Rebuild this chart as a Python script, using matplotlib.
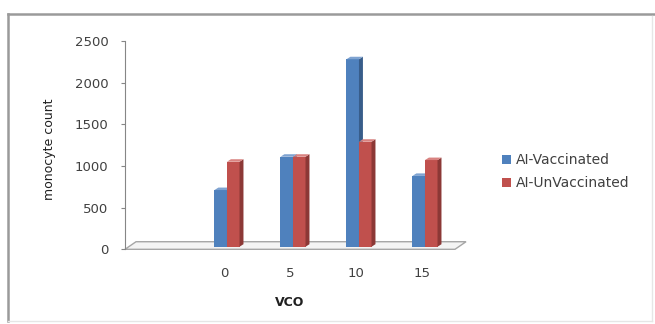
import numpy as np
import matplotlib
matplotlib.use("Agg")
import matplotlib.pyplot as plt
from matplotlib.patches import Polygon, Patch
from matplotlib.lines import Line2D

# data (first slot is an empty category)
categories = ["", "0", "5", "10", "15"]
vaccinated = [np.nan, 680, 1080, 2250, 850]
unvaccinated = [np.nan, 1020, 1080, 1260, 1040]
series_names = ["AI-Vaccinated", "AI-UnVaccinated"]

blue = ("#4F81BD", "#385D8A", "#7FA3D1")   # front, side, top
red = ("#C0504D", "#8C3836", "#D98381")

plt.rcParams["font.family"] = ["DejaVu Sans"]

fig = plt.figure(figsize=(6.55, 3.24), dpi=100)
ax = fig.add_axes([125 / 655, 74.7 / 324, 330 / 655, 208.3 / 324])

x = np.arange(len(categories))
w = 0.19
base = 31        # bars stand a bit inside the floor
sx, sy = 0.06, 30  # fake depth of the bars
fdx, fdy = 0.167, 91  # fake depth of the floor

# floor
ax.add_patch(Polygon([(-0.5, 0), (-0.5 + fdx, fdy), (4.5 + fdx, fdy), (4.5, 0)],
                     closed=True, facecolor="#f4f4f4", edgecolor="#a6a6a6",
                     linewidth=1.0, clip_on=False, zorder=1))


def bars3d(xs, vals, cols):
    for xi, v in zip(xs, vals):
        if np.isnan(v):
            continue
        l, r = xi - w / 2, xi + w / 2
        ax.bar(xi, v, w, bottom=base, color=cols[0], zorder=3, clip_on=False)
        ax.add_patch(Polygon([(r, base), (r + sx, base + sy), (r + sx, base + v + sy), (r, base + v)],
                             closed=True, facecolor=cols[1], edgecolor="none", zorder=3, clip_on=False))
        ax.add_patch(Polygon([(l, base + v), (l + sx, base + v + sy), (r + sx, base + v + sy), (r, base + v)],
                             closed=True, facecolor=cols[2], edgecolor="none", zorder=3, clip_on=False))


bars3d(x - 0.05, vaccinated, blue)
bars3d(x + 0.14, unvaccinated, red)

ax.set_xlim(-0.5, 4.5)
ax.set_ylim(0, 2500)
ax.set_yticks([0, 500, 1000, 1500, 2000, 2500])
ax.set_xticks(x)
ax.set_xticklabels(categories)

for s in ["top", "right", "bottom"]:
    ax.spines[s].set_visible(False)
ax.spines["left"].set_color("#868686")
ax.patch.set_alpha(0)

ax.tick_params(axis="x", length=0, pad=13, labelsize=9.5, labelcolor="#404040")
ax.tick_params(axis="y", length=3, width=0.8, color="#868686", pad=9,
               labelsize=9.5, labelcolor="#404040")

ax.set_ylabel("monocyte count", fontsize=9, color="#202020")
ax.yaxis.set_label_coords(-0.209, 0.48)
ax.set_xlabel("VCO", fontsize=9, fontweight="bold", color="#202020", va="top")
ax.xaxis.set_label_coords(0.5, -0.222)

handles = [Patch(facecolor=blue[0]), Patch(facecolor=red[0])]
fig.legend(handles, series_names, loc="upper left", bbox_to_anchor=(0.748, 0.565),
           frameon=False, fontsize=10, handlelength=0.6, handleheight=0.6,
           handletextpad=0.4, labelspacing=0.65, labelcolor="#404040")

# outer chart border
fig.add_artist(Line2D([8 / 655, 8 / 655], [3 / 324, 310 / 324], color="#9a9a9a", lw=1.8))
fig.add_artist(Line2D([8 / 655, 655 / 655], [310 / 324, 310 / 324], color="#9a9a9a", lw=1.8))
fig.add_artist(Line2D([652 / 655, 652 / 655], [3 / 324, 308 / 324], color="#e6e6e6", lw=1.0))
fig.add_artist(Line2D([8 / 655, 652 / 655], [3 / 324, 3 / 324], color="#e6e6e6", lw=1.0))

fig.savefig("out.png", dpi=100)
